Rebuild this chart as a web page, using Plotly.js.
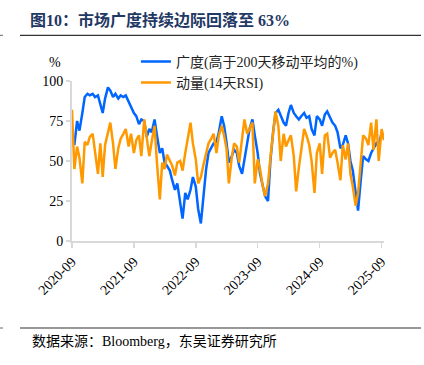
<!DOCTYPE html>
<html>
<head>
<meta charset="utf-8">
<script src="https://cdn.plot.ly/plotly-3.0.1.min.js"></script>
<style>html,body{margin:0;padding:0;background:#fff;}#chart{width:424px;height:365px;}</style>
</head>
<body>
<div id="chart"></div>
<script>
// Semi-monthly observation dates (1st and 15th), 2020-09-01 .. 2025-09-15
var dates = [];
for (var y = 2020; y <= 2025; y++) {
  for (var m = 1; m <= 12; m++) {
    if (y === 2020 && m < 9) continue;
    if (y === 2025 && m > 9) continue;
    var mm = (m < 10 ? '0' : '') + m;
    dates.push(y + '-' + mm + '-01');
    dates.push(y + '-' + mm + '-15');
  }
}

// 广度 (% of stocks above 200-day MA)
var breadth = [
 66,60,75,69,80,90,92,91,92,90,91,85,80,89,96,94,90,92,89,91,
 90,91,87,84,80,78,73,76,75,65,70,68,76,66,55,58,49,47,44,38,
 32,36,22,14,30,26,32,40,34,20,11,28,45,55,58,61,62,68,78,72,
 62,49,53,57,55,47,42,52,61,70,76,66,55,42,34,28,25,50,68,80,
 82,78,74,72,80,85,80,78,76,78,80,77,78,70,66,78,76,72,79,81,
 77,74,72,68,58,60,66,61,50,44,30,19,38,53,51,50,55,58,61,59,
 68,64
];

// 动量 (14-day RSI)
var rsi = [
 82,45,59,52,36,62,60,65,67,57,42,61,40,60,68,74,61,45,58,64,
 67,70,59,67,55,63,66,53,76,66,53,62,72,49,26,49,45,54,50,47,
 41,49,50,44,55,64,74,61,51,36,40,47,55,61,64,67,55,66,72,66,
 58,36,52,61,59,49,64,76,67,70,74,36,51,45,34,28,36,52,70,81,
 72,50,67,59,63,66,53,31,46,56,70,66,60,50,30,55,61,42,66,67,
 52,55,57,49,38,60,51,61,42,34,22,30,50,66,64,60,74,57,76,50,
 70,63
];

var tickVals = ['2020-09-01','2021-09-01','2022-09-01','2023-09-01','2024-09-01','2025-09-01'];
var tickText = ['2020-09','2021-09','2022-09','2023-09','2024-09','2025-09'];
var seriesNames = ['广度(高于200天移动平均的%)', '动量(14天RSI)'];

var serif = 'Liberation Serif, Times New Roman, Noto Sans CJK SC, serif';
var cjk = 'Liberation Serif, Noto Sans CJK SC, serif';

var traces = [
  {x: dates, y: breadth, name: seriesNames[0], type: 'scatter', mode: 'lines',
   line: {color: '#0066FF', width: 2.5}},
  {x: dates, y: rsi, name: seriesNames[1], type: 'scatter', mode: 'lines',
   line: {color: '#FF9900', width: 2.5}}
];

var layout = {
  width: 424, height: 365,
  paper_bgcolor: '#fff', plot_bgcolor: '#fff',
  margin: {l: 72, r: 40, t: 80.7, b: 124.3},
  showlegend: true,
  title: {text: '图10：市场广度持续边际回落至 63%', x: 0.0708, xanchor: 'left', xref: 'container',
          y: 0.945, yanchor: 'middle', yref: 'container',
          font: {family: cjk, size: 16, color: '#1F3864', weight: 'bold'}},
  legend: {x: 0.205, xanchor: 'left', y: 1.22, yanchor: 'top', bgcolor: 'rgba(0,0,0,0)',
           font: {family: cjk, size: 14, color: '#222'}, tracegroupgap: 0},
  xaxis: {type: 'date', range: [dates[0], dates[dates.length - 1]], tickvals: tickVals, ticktext: tickText,
          tickangle: -45, ticks: 'outside', ticklen: 5, tickcolor: '#d9d9d9', tickwidth: 1.5,
          showline: true, linecolor: '#d9d9d9', linewidth: 2, showgrid: false, zeroline: false,
          tickfont: {family: serif, size: 14, color: '#000'}},
  yaxis: {range: [0, 100], tickvals: [0, 25, 50, 75, 100], ticks: 'outside', ticklen: 4,
          tickcolor: '#d9d9d9', tickwidth: 1.5, showline: true, linecolor: '#d9d9d9', linewidth: 2,
          showgrid: false, zeroline: false, tickfont: {family: serif, size: 14, color: '#000'}},
  annotations: [
    {text: '%', xref: 'paper', yref: 'paper', x: -0.0545, y: 1.117, xanchor: 'center', yanchor: 'middle',
     showarrow: false, font: {family: serif, size: 14, color: '#000'}},
    {text: '数据来源：Bloomberg，东吴证券研究所', xref: 'paper', yref: 'paper', x: -0.1346, y: -0.631,
     xanchor: 'left', yanchor: 'middle', showarrow: false, font: {family: cjk, size: 14, color: '#000'}}
  ],
  shapes: [
    {type: 'line', xref: 'paper', yref: 'paper', x0: -0.1667, x1: 1.1186, y0: 1.2856, y1: 1.2856,
     line: {color: '#333', width: 1.2}},
    {type: 'line', xref: 'paper', yref: 'paper', x0: -0.1667, x1: 1.1186, y0: -0.5438, y1: -0.5438,
     line: {color: '#333', width: 1.2}},
    {type: 'line', xref: 'paper', yref: 'paper', x0: -0.2308, x1: -0.2212, y0: 1.2856, y1: 1.2856,
     line: {color: '#666', width: 1}},
    {type: 'line', xref: 'paper', yref: 'paper', x0: -0.2308, x1: -0.2212, y0: -0.5438, y1: -0.5438,
     line: {color: '#666', width: 1}}
  ]
};

Plotly.newPlot('chart', traces, layout, {displayModeBar: false, staticPlot: true});
</script>
</body>
</html>
